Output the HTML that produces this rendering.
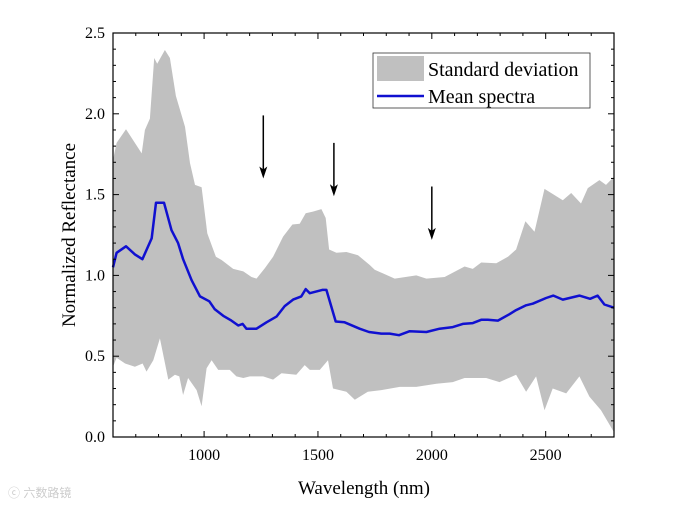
<!DOCTYPE html>
<html><head><meta charset="utf-8"><style>
html,body{margin:0;padding:0;background:#fff;width:685px;height:507px;overflow:hidden}
svg{display:block;font-family:"Liberation Serif",serif}
</style></head><body>
<svg id="chart" width="685" height="507" viewBox="0 0 685 507" xmlns="http://www.w3.org/2000/svg">
<g id="band-layer"></g>
<g id="line-layer"></g>
<g id="axis-layer"></g>
<g id="arrow-layer"></g>
<g>
<rect x="373" y="53" width="217" height="55" fill="#fff" stroke="#333" stroke-width="0.8"/>
<rect x="377" y="56" width="47" height="25" fill="#c0c0c0"/>
<text x="428" y="76" font-size="20" fill="#000">Standard deviation</text>
<line x1="377" y1="96" x2="424" y2="96" stroke="#1010d0" stroke-width="2.5"/>
<text x="428" y="103" font-size="20" fill="#000">Mean spectra</text>
</g>
<text x="364" y="494" font-size="19" text-anchor="middle">Wavelength (nm)</text>
<text transform="translate(75,235) rotate(-90)" font-size="19" text-anchor="middle">Normalized Reflectance</text>
<text x="8" y="497" font-size="12" fill="#ccc" font-family="'Liberation Sans','Noto Sans CJK SC',sans-serif">ⓒ 六数路镜</text>
</svg>
<script>
const meanX=[600,616,657,696,729,748,770,789,824,857,886,908,945,982,1023,1047,1084,1120,1150,1169,1186,1230,1274,1318,1354,1391,1427,1446,1464,1519,1537,1578,1617,1683,1724,1778,1815,1856,1903,1976,2034,2092,2136,2180,2217,2246,2290,2341,2370,2414,2443,2502,2534,2575,2648,2695,2728,2758,2800];
const meanY=[1.05,1.14,1.18,1.13,1.10,1.16,1.23,1.45,1.45,1.28,1.20,1.10,0.97,0.87,0.84,0.79,0.75,0.72,0.69,0.70,0.67,0.67,0.71,0.745,0.81,0.85,0.87,0.915,0.89,0.91,0.91,0.715,0.71,0.67,0.65,0.64,0.64,0.63,0.655,0.65,0.67,0.68,0.70,0.705,0.725,0.725,0.72,0.76,0.785,0.815,0.825,0.86,0.875,0.85,0.875,0.855,0.875,0.82,0.80];
const upX=[600,616,657,726,740,762,781,794,828,850,876,916,938,960,989,1014,1052,1077,1128,1172,1208,1230,1267,1303,1347,1388,1420,1446,1478,1515,1534,1549,1581,1625,1676,1727,1749,1837,1932,1976,2056,2144,2180,2217,2283,2334,2370,2411,2451,2495,2575,2612,2655,2685,2736,2765,2800];
const upY=[1.715,1.82,1.905,1.755,1.90,1.97,2.345,2.31,2.395,2.345,2.11,1.92,1.695,1.56,1.545,1.26,1.115,1.095,1.04,1.025,0.99,0.98,1.045,1.115,1.24,1.315,1.32,1.385,1.395,1.41,1.355,1.16,1.14,1.145,1.125,1.065,1.035,0.98,1.0,0.98,0.99,1.055,1.04,1.08,1.075,1.115,1.16,1.335,1.27,1.535,1.465,1.51,1.445,1.54,1.59,1.56,1.61];
const loX=[600,616,653,696,730,747,777,806,843,872,891,908,930,967,989,1011,1033,1062,1113,1142,1172,1201,1259,1303,1340,1405,1442,1464,1508,1544,1566,1625,1662,1719,1778,1859,1932,2020,2092,2144,2239,2297,2370,2414,2458,2495,2531,2590,2648,2692,2743,2800];
const loY=[0.435,0.49,0.455,0.435,0.455,0.405,0.475,0.61,0.355,0.385,0.375,0.26,0.365,0.29,0.19,0.425,0.475,0.415,0.415,0.375,0.365,0.375,0.375,0.355,0.395,0.385,0.445,0.415,0.415,0.475,0.30,0.28,0.23,0.28,0.29,0.31,0.31,0.33,0.34,0.365,0.365,0.34,0.385,0.28,0.375,0.165,0.30,0.27,0.375,0.25,0.165,0.03];
const xTicks=[1000,1500,2000,2500];
const yTicks=[0.0,0.5,1.0,1.5,2.0,2.5];
const yTickLabels=["0.0","0.5","1.0","1.5","2.0","2.5"];
const arrowX=[1260,1570,2000];
const arrowTop=[1.99,1.82,1.55];
const arrowBot=[1.60,1.49,1.22];
const L=113,R=614,T=33,B=437,X0=600,X1=2800,Y0=0,Y1=2.5;
const sx=v=>L+(v-X0)/(X1-X0)*(R-L);
const sy=v=>B-(v-Y0)/(Y1-Y0)*(B-T);
const NS="http://www.w3.org/2000/svg";
function mk(tag,attrs,parent){const e=document.createElementNS(NS,tag);for(const k in attrs)e.setAttribute(k,attrs[k]);parent.appendChild(e);return e;}
const band=document.getElementById('band-layer');
let d='M'+upX.map((x,i)=>sx(x).toFixed(1)+','+sy(upY[i]).toFixed(1)).join(' L');
for(let i=loX.length-1;i>=0;i--)d+=' L'+sx(loX[i]).toFixed(1)+','+sy(loY[i]).toFixed(1);
d+='Z';
const bp=mk('path',{d:d,fill:'#c0c0c0'},band);


const ll=document.getElementById('line-layer');
const lp=mk('polyline',{points:meanX.map((x,i)=>sx(x).toFixed(1)+','+sy(meanY[i]).toFixed(1)).join(' '),fill:'none',stroke:'#1010d0','stroke-width':2.5,'stroke-linejoin':'round'},ll);


const ax=document.getElementById('axis-layer');
const fr=mk('rect',{x:L,y:T,width:R-L,height:B-T,fill:'none',stroke:'#000','stroke-width':1.2},ax);


for(let v=600;v<=2800;v+=100){const x=sx(v);const maj=v%500===0;const len=maj?6:3;
mk('line',{x1:x,y1:B,x2:x,y2:B-len,stroke:'#000','stroke-width':1},ax);
mk('line',{x1:x,y1:T,x2:x,y2:T+len,stroke:'#000','stroke-width':1},ax);}
xTicks.forEach(v=>{const t=mk('text',{x:sx(v),y:B+23,'font-size':16,'text-anchor':'middle'},ax);t.textContent=v;

});
for(let k=0;k<=25;k++){const v=k/10;const y=sy(v);const maj=k%5===0;const len=maj?6:3;
mk('line',{x1:L,y1:y,x2:L+len,y2:y,stroke:'#000','stroke-width':1},ax);
mk('line',{x1:R,y1:y,x2:R-len,y2:y,stroke:'#000','stroke-width':1},ax);}
yTicks.forEach((v,i)=>{const t=mk('text',{x:L-8,y:sy(v)+5,'font-size':16,'text-anchor':'end'},ax);t.textContent=yTickLabels[i];

});
const ar=document.getElementById('arrow-layer');
arrowX.forEach((v,i)=>{const x=sx(v),y1=sy(arrowTop[i]),y2=sy(arrowBot[i]);
const g=mk('g',{},ar);


mk('line',{x1:x,y1:y1,x2:x,y2:y2-8,stroke:'#000','stroke-width':1.5},g);
mk('path',{d:`M${x-4},${y2-12} L${x},${y2} L${x+4},${y2-12} L${x},${y2-9}Z`,fill:'#000'},g);});
</script>
</body></html>
